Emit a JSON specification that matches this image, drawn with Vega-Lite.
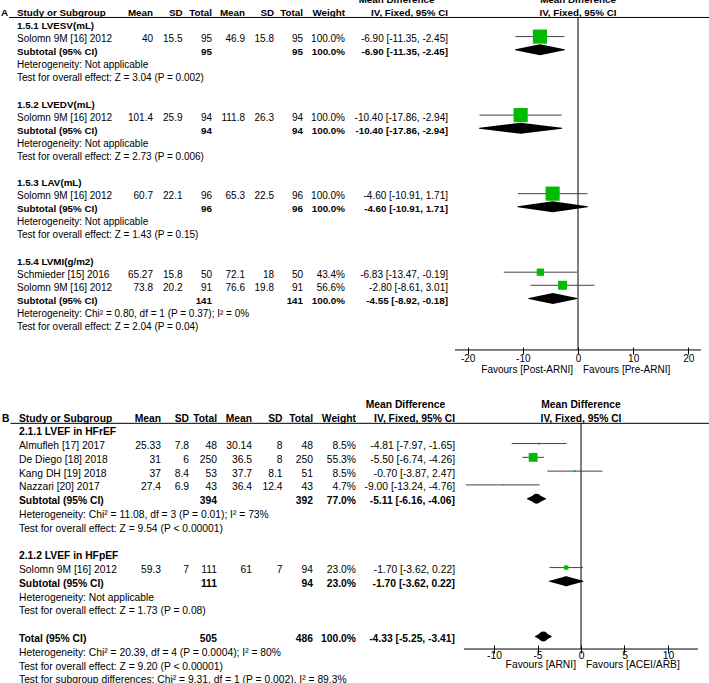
{
  "$schema": "https://vega.github.io/schema/vega-lite/v6.json",
  "width": 709,
  "height": 683,
  "autosize": "none",
  "padding": 0,
  "background": "white",
  "config": {"view": {"stroke": null}},
  "datasets": {
    "A": [
      {"k": -1, "t": "h", "mdh": "Mean Difference", "fh": "Mean Difference"},
      {"k": 0, "t": "h", "lab": "A", "study": "Study or Subgroup", "m1": "Mean", "s1": "SD", "t1": "Total", "m2": "Mean", "s2": "SD", "t2": "Total", "w": "Weight", "ci": "IV, Fixed, 95% CI", "fh": "IV, Fixed, 95% CI", "fl": "Favours [Post-ARNI]", "fr": "Favours [Pre-ARNI]"},
      {"k": 1, "t": "g", "study": "1.5.1 LVESV(mL)"},
      {"k": 2, "t": "s", "study": "Solomn 9M [16] 2012", "m1": "40", "s1": "15.5", "t1": "95", "m2": "46.9", "s2": "15.8", "t2": "95", "w": "100.0%", "ci": "-6.90 [-11.35, -2.45]", "md": -6.9, "lo": -11.35, "hi": -2.45, "wt": 100},
      {"k": 3, "t": "sub", "study": "Subtotal (95% CI)", "t1": "95", "t2": "95", "w": "100.0%", "ci": "-6.90 [-11.35, -2.45]", "md": -6.9, "lo": -11.35, "hi": -2.45},
      {"k": 4, "t": "n", "study": "Heterogeneity: Not applicable"},
      {"k": 5, "t": "n", "study": "Test for overall effect: Z = 3.04 (P = 0.002)"},
      {"k": 7, "t": "g", "study": "1.5.2 LVEDV(mL)"},
      {"k": 8, "t": "s", "study": "Solomn 9M [16] 2012", "m1": "101.4", "s1": "25.9", "t1": "94", "m2": "111.8", "s2": "26.3", "t2": "94", "w": "100.0%", "ci": "-10.40 [-17.86, -2.94]", "md": -10.4, "lo": -17.86, "hi": -2.94, "wt": 100},
      {"k": 9, "t": "sub", "study": "Subtotal (95% CI)", "t1": "94", "t2": "94", "w": "100.0%", "ci": "-10.40 [-17.86, -2.94]", "md": -10.4, "lo": -17.86, "hi": -2.94},
      {"k": 10, "t": "n", "study": "Heterogeneity: Not applicable"},
      {"k": 11, "t": "n", "study": "Test for overall effect: Z = 2.73 (P = 0.006)"},
      {"k": 13, "t": "g", "study": "1.5.3 LAV(mL)"},
      {"k": 14, "t": "s", "study": "Solomn 9M [16] 2012", "m1": "60.7", "s1": "22.1", "t1": "96", "m2": "65.3", "s2": "22.5", "t2": "96", "w": "100.0%", "ci": "-4.60 [-10.91, 1.71]", "md": -4.6, "lo": -10.91, "hi": 1.71, "wt": 100},
      {"k": 15, "t": "sub", "study": "Subtotal (95% CI)", "t1": "96", "t2": "96", "w": "100.0%", "ci": "-4.60 [-10.91, 1.71]", "md": -4.6, "lo": -10.91, "hi": 1.71},
      {"k": 16, "t": "n", "study": "Heterogeneity: Not applicable"},
      {"k": 17, "t": "n", "study": "Test for overall effect: Z = 1.43 (P = 0.15)"},
      {"k": 19, "t": "g", "study": "1.5.4 LVMI(g/m2)"},
      {"k": 20, "t": "s", "study": "Schmieder [15] 2016", "m1": "65.27", "s1": "15.8", "t1": "50", "m2": "72.1", "s2": "18", "t2": "50", "w": "43.4%", "ci": "-6.83 [-13.47, -0.19]", "md": -6.83, "lo": -13.47, "hi": -0.19, "wt": 43.4},
      {"k": 21, "t": "s", "study": "Solomn 9M [16] 2012", "m1": "73.8", "s1": "20.2", "t1": "91", "m2": "76.6", "s2": "19.8", "t2": "91", "w": "56.6%", "ci": "-2.80 [-8.61, 3.01]", "md": -2.8, "lo": -8.61, "hi": 3.01, "wt": 56.6},
      {"k": 22, "t": "sub", "study": "Subtotal (95% CI)", "t1": "141", "t2": "141", "w": "100.0%", "ci": "-4.55 [-8.92, -0.18]", "md": -4.55, "lo": -8.92, "hi": -0.18},
      {"k": 23, "t": "n", "study": "Heterogeneity: Chi² = 0.80, df = 1 (P = 0.37); I² = 0%"},
      {"k": 24, "t": "n", "study": "Test for overall effect: Z = 2.04 (P = 0.04)"}
    ],
    "B": [
      {"k": -1, "t": "h", "mdh": "Mean Difference", "fh": "Mean Difference"},
      {"k": 0, "t": "h", "lab": "B", "study": "Study or Subgroup", "m1": "Mean", "s1": "SD", "t1": "Total", "m2": "Mean", "s2": "SD", "t2": "Total", "w": "Weight", "ci": "IV, Fixed, 95% CI", "fh": "IV, Fixed, 95% CI", "fl": "Favours [ARNI]", "fr": "Favours [ACEI/ARB]"},
      {"k": 1, "t": "g", "study": "2.1.1 LVEF in HFrEF"},
      {"k": 2, "t": "s", "study": "Almufleh [17] 2017", "m1": "25.33", "s1": "7.8", "t1": "48", "m2": "30.14", "s2": "8", "t2": "48", "w": "8.5%", "ci": "-4.81 [-7.97, -1.65]", "md": -4.81, "lo": -7.97, "hi": -1.65, "wt": 8.5},
      {"k": 3, "t": "s", "study": "De Diego [18] 2018", "m1": "31", "s1": "6", "t1": "250", "m2": "36.5", "s2": "8", "t2": "250", "w": "55.3%", "ci": "-5.50 [-6.74, -4.26]", "md": -5.5, "lo": -6.74, "hi": -4.26, "wt": 55.3},
      {"k": 4, "t": "s", "study": "Kang DH [19] 2018", "m1": "37", "s1": "8.4", "t1": "53", "m2": "37.7", "s2": "8.1", "t2": "51", "w": "8.5%", "ci": "-0.70 [-3.87, 2.47]", "md": -0.7, "lo": -3.87, "hi": 2.47, "wt": 8.5},
      {"k": 5, "t": "s", "study": "Nazzari [20] 2017", "m1": "27.4", "s1": "6.9", "t1": "43", "m2": "36.4", "s2": "12.4", "t2": "43", "w": "4.7%", "ci": "-9.00 [-13.24, -4.76]", "md": -9.0, "lo": -13.24, "hi": -4.76, "wt": 4.7},
      {"k": 6, "t": "sub", "study": "Subtotal (95% CI)", "t1": "394", "t2": "392", "w": "77.0%", "ci": "-5.11 [-6.16, -4.06]", "md": -5.11, "lo": -6.16, "hi": -4.06},
      {"k": 7, "t": "n", "study": "Heterogeneity: Chi² = 11.08, df = 3 (P = 0.01); I² = 73%"},
      {"k": 8, "t": "n", "study": "Test for overall effect: Z = 9.54 (P < 0.00001)"},
      {"k": 10, "t": "g", "study": "2.1.2 LVEF in HFpEF"},
      {"k": 11, "t": "s", "study": "Solomn 9M [16] 2012", "m1": "59.3", "s1": "7", "t1": "111", "m2": "61", "s2": "7", "t2": "94", "w": "23.0%", "ci": "-1.70 [-3.62, 0.22]", "md": -1.7, "lo": -3.62, "hi": 0.22, "wt": 23},
      {"k": 12, "t": "sub", "study": "Subtotal (95% CI)", "t1": "111", "t2": "94", "w": "23.0%", "ci": "-1.70 [-3.62, 0.22]", "md": -1.7, "lo": -3.62, "hi": 0.22},
      {"k": 13, "t": "n", "study": "Heterogeneity: Not applicable"},
      {"k": 14, "t": "n", "study": "Test for overall effect: Z = 1.73 (P = 0.08)"},
      {"k": 16, "t": "tot", "study": "Total (95% CI)", "t1": "505", "t2": "486", "w": "100.0%", "ci": "-4.33 [-5.25, -3.41]", "md": -4.33, "lo": -5.25, "hi": -3.41},
      {"k": 17, "t": "n", "study": "Heterogeneity: Chi² = 20.39, df = 4 (P = 0.0004); I² = 80%"},
      {"k": 18, "t": "n", "study": "Test for overall effect: Z = 9.20 (P < 0.00001)"},
      {"k": 19, "t": "n", "study": "Test for subgroup differences: Chi² = 9.31, df = 1 (P = 0.002), I² = 89.3%"}
    ]
  },
  "layer": [
    {
      "data": {"name": "A"},
      "encoding": {"y": {"field": "k", "type": "quantitative", "axis": null, "scale": {"domain": [0, 24], "range": [12.9, 327.06], "nice": false, "zero": false}}},
      "layer": [
        {
          "transform": [{"fold": ["lab", "study"], "as": ["key", "val"]}, {"filter": "datum.val != null"}],
          "encoding": {"x": {"field": "key", "type": "nominal", "axis": null, "scale": {"type": "point", "domain": ["lab", "rule", "study"], "range": [1, 17], "padding": 0}}},
          "layer": [
            {"transform": [{"filter": "datum.t == 's' || datum.t == 'n'"}], "mark": {"type": "text", "align": "left", "baseline": "middle", "font": "Liberation Sans", "fontSize": 10, "color": "#000"}, "encoding": {"text": {"field": "val"}}},
            {"transform": [{"filter": "datum.t != 's' && datum.t != 'n'"}], "mark": {"type": "text", "align": "left", "baseline": "middle", "font": "Liberation Sans", "fontSize": 9.8, "fontWeight": "bold", "color": "#000"}, "encoding": {"text": {"field": "val"}}},
            {"transform": [{"filter": "datum.key == 'lab'"}], "mark": {"type": "rule", "color": "#000", "strokeWidth": 1}, "encoding": {"x": {"datum": "rule", "type": "nominal"}, "x2": {"value": "width"}, "y": {"datum": 0.35, "type": "quantitative"}}}
          ]
        },
        {
          "transform": [{"fold": ["m1", "s1", "t1"], "as": ["key", "val"]}, {"filter": "datum.val != null"}],
          "encoding": {"x": {"field": "key", "type": "nominal", "axis": null, "scale": {"type": "point", "domain": ["m1", "s1", "t1"], "range": [153, 212], "padding": 0}}, "text": {"field": "val"}},
          "layer": [
            {"transform": [{"filter": "datum.t == 's' || datum.t == 'n'"}], "mark": {"type": "text", "align": "right", "baseline": "middle", "font": "Liberation Sans", "fontSize": 10, "color": "#000"}},
            {"transform": [{"filter": "datum.t != 's' && datum.t != 'n'"}], "mark": {"type": "text", "align": "right", "baseline": "middle", "font": "Liberation Sans", "fontSize": 9.8, "fontWeight": "bold", "color": "#000"}}
          ]
        },
        {
          "transform": [{"fold": ["m2", "s2", "t2"], "as": ["key", "val"]}, {"filter": "datum.val != null"}],
          "encoding": {"x": {"field": "key", "type": "nominal", "axis": null, "scale": {"type": "point", "domain": ["m2", "s2", "t2"], "range": [245, 303], "padding": 0}}, "text": {"field": "val"}},
          "layer": [
            {"transform": [{"filter": "datum.t == 's' || datum.t == 'n'"}], "mark": {"type": "text", "align": "right", "baseline": "middle", "font": "Liberation Sans", "fontSize": 10, "color": "#000"}},
            {"transform": [{"filter": "datum.t != 's' && datum.t != 'n'"}], "mark": {"type": "text", "align": "right", "baseline": "middle", "font": "Liberation Sans", "fontSize": 9.8, "fontWeight": "bold", "color": "#000"}}
          ]
        },
        {
          "transform": [{"fold": ["w", "mdh", "ci"], "as": ["key", "val"]}, {"filter": "datum.val != null"}],
          "encoding": {"x": {"field": "key", "type": "nominal", "axis": null, "scale": {"type": "point", "domain": ["w", "mdh", "ci"], "range": [345, 448], "padding": 0}}, "text": {"field": "val"}},
          "layer": [
            {"transform": [{"filter": "(datum.t == 's' || datum.t == 'n') && datum.key != 'mdh'"}], "mark": {"type": "text", "align": "right", "baseline": "middle", "font": "Liberation Sans", "fontSize": 10, "color": "#000"}},
            {"transform": [{"filter": "datum.t != 's' && datum.t != 'n' && datum.key != 'mdh'"}], "mark": {"type": "text", "align": "right", "baseline": "middle", "font": "Liberation Sans", "fontSize": 9.8, "fontWeight": "bold", "color": "#000"}},
            {"transform": [{"filter": "datum.key == 'mdh'"}], "mark": {"type": "text", "align": "center", "baseline": "middle", "font": "Liberation Sans", "fontSize": 9.8, "fontWeight": "bold", "color": "#000"}}
          ]
        },
        {
          "layer": [
            {"transform": [{"filter": "datum.k == 0"}], "mark": {"type": "rule", "color": "#000", "strokeWidth": 1}, "encoding": {"x": {"datum": 0, "type": "quantitative", "scale": {"domain": [-22.3, 22.3], "range": [455, 701], "nice": false, "zero": false}, "axis": {"orient": "bottom", "offset": -336, "values": [-20, -10, 0, 10, 20], "domain": false, "grid": false, "ticks": true, "tickSize": 7, "tickColor": "#000", "tickWidth": 1, "labelFont": "Liberation Sans", "labelFontSize": 10, "labelColor": "#000", "labelPadding": -1, "labelExpr": "toString(datum.value)", "labelFlush": false, "labelOverlap": false, "labelBound": false, "title": null}}, "y": {"datum": 0.35, "type": "quantitative"}, "y2": {"datum": 25.75}}},
            {"transform": [{"filter": "datum.k == 0"}], "mark": {"type": "rule", "color": "#000", "strokeWidth": 1}, "encoding": {"x": {"datum": -22.3, "type": "quantitative", "axis": {"title": null}}, "x2": {"datum": 22.3}, "y": {"datum": 25.75, "type": "quantitative"}}},
            {"transform": [{"filter": "datum.t == 's'"}], "mark": {"type": "rule", "color": "#444", "strokeWidth": 1, "yOffset": -2.5}, "encoding": {"x": {"field": "lo", "type": "quantitative", "axis": {"title": null}}, "x2": {"field": "hi"}}},
            {"transform": [{"filter": "datum.t == 's'"}], "mark": {"type": "point", "shape": "square", "filled": true, "color": "#00bb00", "opacity": 1, "strokeWidth": 0, "yOffset": -2.5}, "encoding": {"x": {"field": "md", "type": "quantitative", "axis": {"title": null}}, "size": {"field": "wt", "type": "quantitative", "scale": {"type": "pow", "exponent": 1.6, "domain": [0, 100], "range": [0, 200]}, "legend": null}}},
            {"transform": [{"filter": "datum.t == 'sub' || datum.t == 'tot'"}, {"fold": ["lo", "md", "hi"], "as": ["pt", "val"]}], "mark": {"type": "trail", "color": "#000", "opacity": 1, "yOffset": -2.5}, "encoding": {"x": {"field": "val", "type": "quantitative", "axis": {"title": null}}, "detail": {"field": "k", "type": "nominal"}, "order": {"field": "val", "type": "quantitative"}, "size": {"field": "pt", "type": "ordinal", "scale": {"type": "ordinal", "domain": ["lo", "md", "hi"], "range": [0, 11, 0]}, "legend": null}}},
            {"transform": [{"filter": "datum.fh != null"}], "mark": {"type": "text", "align": "center", "baseline": "middle", "font": "Liberation Sans", "fontSize": 9.8, "fontWeight": "bold", "color": "#000"}, "encoding": {"x": {"datum": 0, "type": "quantitative"}, "text": {"field": "fh"}}},
            {"transform": [{"filter": "datum.fl != null"}], "mark": {"type": "text", "align": "right", "baseline": "middle", "dx": -5, "font": "Liberation Sans", "fontSize": 10, "color": "#000"}, "encoding": {"x": {"datum": 0, "type": "quantitative"}, "y": {"datum": 27.3, "type": "quantitative"}, "text": {"field": "fl"}}},
            {"transform": [{"filter": "datum.fr != null"}], "mark": {"type": "text", "align": "left", "baseline": "middle", "dx": 5, "font": "Liberation Sans", "fontSize": 10, "color": "#000"}, "encoding": {"x": {"datum": 0, "type": "quantitative"}, "y": {"datum": 27.3, "type": "quantitative"}, "text": {"field": "fr"}}}
          ],
          "resolve": {"scale": {"size": "independent"}}
        }
      ],
      "resolve": {"scale": {"x": "independent", "size": "independent"}}
    },
    {
      "data": {"name": "B"},
      "encoding": {"y": {"field": "k", "type": "quantitative", "axis": null, "scale": {"domain": [0, 19], "range": [418.5, 680.32], "nice": false, "zero": false}}},
      "layer": [
        {
          "transform": [{"fold": ["lab", "study"], "as": ["key", "val"]}, {"filter": "datum.val != null"}],
          "encoding": {"x": {"field": "key", "type": "nominal", "axis": null, "scale": {"type": "point", "domain": ["lab", "rule", "study"], "range": [2, 19], "padding": 0}}},
          "layer": [
            {"transform": [{"filter": "datum.t == 's' || datum.t == 'n'"}], "mark": {"type": "text", "align": "left", "baseline": "middle", "font": "Liberation Sans", "fontSize": 10.3, "color": "#000"}, "encoding": {"text": {"field": "val"}}},
            {"transform": [{"filter": "datum.t != 's' && datum.t != 'n'"}], "mark": {"type": "text", "align": "left", "baseline": "middle", "font": "Liberation Sans", "fontSize": 10.3, "fontWeight": "bold", "color": "#000"}, "encoding": {"text": {"field": "val"}}},
            {"transform": [{"filter": "datum.key == 'lab'"}], "mark": {"type": "rule", "color": "#000", "strokeWidth": 1}, "encoding": {"x": {"datum": "rule", "type": "nominal"}, "x2": {"value": "width"}, "y": {"datum": 0.35, "type": "quantitative"}}}
          ]
        },
        {
          "transform": [{"fold": ["m1", "s1", "t1"], "as": ["key", "val"]}, {"filter": "datum.val != null"}],
          "encoding": {"x": {"field": "key", "type": "nominal", "axis": null, "scale": {"type": "point", "domain": ["m1", "s1", "t1"], "range": [161, 217], "padding": 0}}, "text": {"field": "val"}},
          "layer": [
            {"transform": [{"filter": "datum.t == 's' || datum.t == 'n'"}], "mark": {"type": "text", "align": "right", "baseline": "middle", "font": "Liberation Sans", "fontSize": 10.3, "color": "#000"}},
            {"transform": [{"filter": "datum.t != 's' && datum.t != 'n'"}], "mark": {"type": "text", "align": "right", "baseline": "middle", "font": "Liberation Sans", "fontSize": 10.3, "fontWeight": "bold", "color": "#000"}}
          ]
        },
        {
          "transform": [{"fold": ["m2", "s2", "t2"], "as": ["key", "val"]}, {"filter": "datum.val != null"}],
          "encoding": {"x": {"field": "key", "type": "nominal", "axis": null, "scale": {"type": "point", "domain": ["m2", "s2", "t2"], "range": [252, 313], "padding": 0}}, "text": {"field": "val"}},
          "layer": [
            {"transform": [{"filter": "datum.t == 's' || datum.t == 'n'"}], "mark": {"type": "text", "align": "right", "baseline": "middle", "font": "Liberation Sans", "fontSize": 10.3, "color": "#000"}},
            {"transform": [{"filter": "datum.t != 's' && datum.t != 'n'"}], "mark": {"type": "text", "align": "right", "baseline": "middle", "font": "Liberation Sans", "fontSize": 10.3, "fontWeight": "bold", "color": "#000"}}
          ]
        },
        {
          "transform": [{"fold": ["w", "mdh", "ci"], "as": ["key", "val"]}, {"filter": "datum.val != null"}],
          "encoding": {"x": {"field": "key", "type": "nominal", "axis": null, "scale": {"type": "point", "domain": ["w", "mdh", "ci"], "range": [356, 455], "padding": 0}}, "text": {"field": "val"}},
          "layer": [
            {"transform": [{"filter": "(datum.t == 's' || datum.t == 'n') && datum.key != 'mdh'"}], "mark": {"type": "text", "align": "right", "baseline": "middle", "font": "Liberation Sans", "fontSize": 10.3, "color": "#000"}},
            {"transform": [{"filter": "datum.t != 's' && datum.t != 'n' && datum.key != 'mdh'"}], "mark": {"type": "text", "align": "right", "baseline": "middle", "font": "Liberation Sans", "fontSize": 10.3, "fontWeight": "bold", "color": "#000"}},
            {"transform": [{"filter": "datum.key == 'mdh'"}], "mark": {"type": "text", "align": "center", "baseline": "middle", "font": "Liberation Sans", "fontSize": 10.3, "fontWeight": "bold", "color": "#000"}}
          ]
        },
        {
          "layer": [
            {"transform": [{"filter": "datum.k == 0"}], "mark": {"type": "rule", "color": "#000", "strokeWidth": 1}, "encoding": {"x": {"datum": 0, "type": "quantitative", "scale": {"domain": [-13.45, 13.45], "range": [464, 698], "nice": false, "zero": false}, "axis": {"orient": "bottom", "offset": -38, "values": [-10, -5, 0, 5, 10], "domain": false, "grid": false, "ticks": true, "tickSize": 8, "tickColor": "#000", "tickWidth": 1, "labelFont": "Liberation Sans", "labelFontSize": 10.3, "labelColor": "#000", "labelPadding": -3, "labelExpr": "toString(datum.value)", "labelFlush": false, "labelOverlap": false, "labelBound": false, "title": null}}, "y": {"datum": 0.35, "type": "quantitative"}, "y2": {"datum": 16.73}}},
            {"transform": [{"filter": "datum.k == 0"}], "mark": {"type": "rule", "color": "#000", "strokeWidth": 1}, "encoding": {"x": {"datum": -13.45, "type": "quantitative", "axis": {"title": null}}, "x2": {"datum": 13.45}, "y": {"datum": 16.73, "type": "quantitative"}}},
            {"transform": [{"filter": "datum.t == 's'"}], "mark": {"type": "rule", "color": "#444", "strokeWidth": 1, "yOffset": -2.5}, "encoding": {"x": {"field": "lo", "type": "quantitative", "axis": {"title": null}}, "x2": {"field": "hi"}}},
            {"transform": [{"filter": "datum.t == 's'"}], "mark": {"type": "point", "shape": "square", "filled": true, "color": "#00bb00", "opacity": 1, "strokeWidth": 0, "yOffset": -2.5}, "encoding": {"x": {"field": "md", "type": "quantitative", "axis": {"title": null}}, "size": {"field": "wt", "type": "quantitative", "scale": {"type": "pow", "exponent": 1.6, "domain": [0, 100], "range": [0, 200]}, "legend": null}}},
            {"transform": [{"filter": "datum.t == 'sub' || datum.t == 'tot'"}, {"fold": ["lo", "md", "hi"], "as": ["pt", "val"]}], "mark": {"type": "trail", "color": "#000", "opacity": 1, "yOffset": -2.5}, "encoding": {"x": {"field": "val", "type": "quantitative", "axis": {"title": null}}, "detail": {"field": "k", "type": "nominal"}, "order": {"field": "val", "type": "quantitative"}, "size": {"field": "pt", "type": "ordinal", "scale": {"type": "ordinal", "domain": ["lo", "md", "hi"], "range": [0, 10, 0]}, "legend": null}}},
            {"transform": [{"filter": "datum.fh != null"}], "mark": {"type": "text", "align": "center", "baseline": "middle", "font": "Liberation Sans", "fontSize": 10.3, "fontWeight": "bold", "color": "#000"}, "encoding": {"x": {"datum": 0, "type": "quantitative"}, "text": {"field": "fh"}}},
            {"transform": [{"filter": "datum.fl != null"}], "mark": {"type": "text", "align": "right", "baseline": "middle", "dx": -5, "font": "Liberation Sans", "fontSize": 10.3, "color": "#000"}, "encoding": {"x": {"datum": 0, "type": "quantitative"}, "y": {"datum": 17.9, "type": "quantitative"}, "text": {"field": "fl"}}},
            {"transform": [{"filter": "datum.fr != null"}], "mark": {"type": "text", "align": "left", "baseline": "middle", "dx": 5, "font": "Liberation Sans", "fontSize": 10.3, "color": "#000"}, "encoding": {"x": {"datum": 0, "type": "quantitative"}, "y": {"datum": 17.9, "type": "quantitative"}, "text": {"field": "fr"}}}
          ],
          "resolve": {"scale": {"size": "independent"}}
        }
      ],
      "resolve": {"scale": {"x": "independent", "size": "independent"}}
    }
  ],
  "resolve": {"scale": {"x": "independent", "y": "independent", "size": "independent"}}
}
